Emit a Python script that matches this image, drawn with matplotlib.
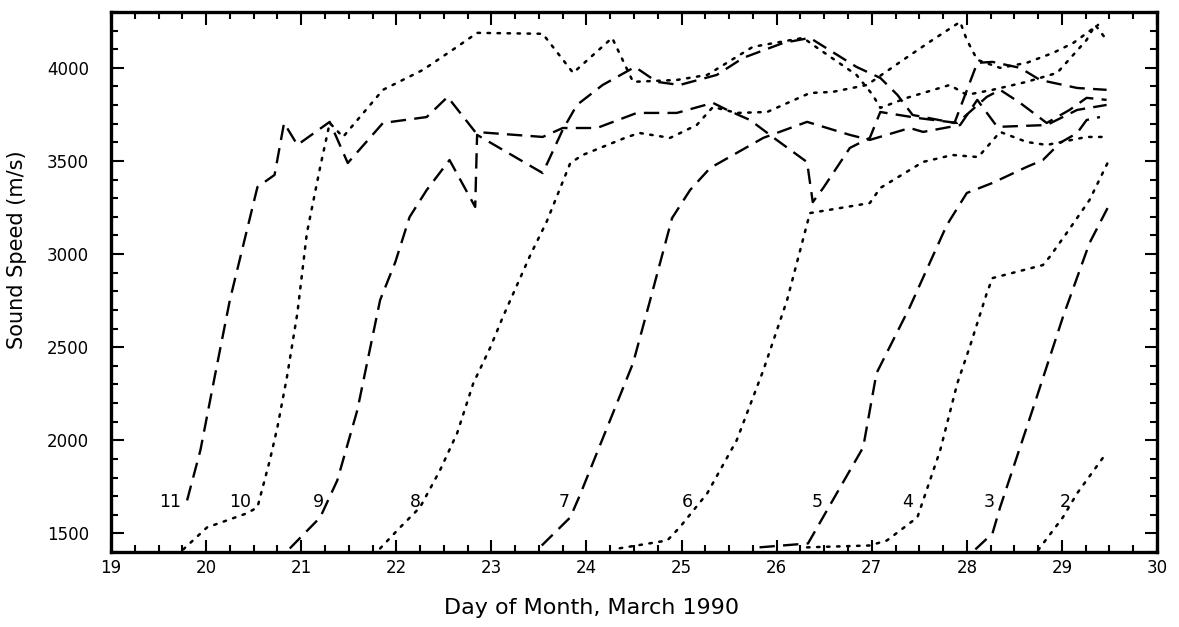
import matplotlib
matplotlib.use("Agg")
import matplotlib.pyplot as plt
from matplotlib.ticker import MultipleLocator

# ---- data (day of month, sound speed m/s) ----
c11_x = [19.80, 19.94, 20.11, 20.25, 20.54, 20.72, 20.82, 20.96, 21.30, 21.49, 21.86, 22.32, 22.54, 22.83,
         23.54, 23.75, 24.11, 24.53, 24.95, 25.33, 25.48, 25.72, 26.00, 26.32, 26.38, 26.49, 26.77, 26.98,
         27.09, 27.48, 27.90, 28.21, 28.35, 28.56, 28.84, 29.08, 29.26, 29.47]
c11_y = [1677, 1946, 2392, 2753, 3360, 3425, 3704, 3586, 3710, 3489, 3704, 3736, 3844, 3656,
         3629, 3677, 3677, 3758, 3758, 3812, 3774, 3720, 3613, 3494, 3279, 3355, 3570, 3624,
         3763, 3731, 3704, 3844, 3882, 3812, 3704, 3774, 3839, 3828]

c10_x = [19.76, 20.01, 20.43, 20.54, 20.67, 20.75, 20.85, 20.96, 21.06, 21.20, 21.30, 21.44, 21.86, 22.28,
         22.64, 22.85, 23.54, 23.86, 24.27, 24.49, 24.95, 25.27, 25.75, 26.28, 26.38, 26.84, 27.01, 27.09,
         27.37, 27.82, 28.00, 28.27, 28.63, 28.95, 29.26, 29.35, 29.47]
c10_y = [1414, 1532, 1608, 1640, 1892, 2070, 2339, 2683, 3113, 3468, 3704, 3629, 3882, 3989,
         4113, 4188, 4183, 3973, 4161, 3925, 3935, 3962, 4113, 4161, 4124, 3962, 3855, 3785,
         3839, 3908, 3855, 3882, 3925, 3973, 4150, 4231, 4150]

c9_x = [20.88, 21.20, 21.38, 21.59, 21.83, 21.99, 22.14, 22.32, 22.56, 22.83, 22.85, 23.54, 23.75, 23.90,
        24.17, 24.51, 24.74, 24.98, 25.37, 25.65, 26.07, 26.35, 26.84, 27.09, 27.27, 27.43, 27.87, 28.11,
        28.27, 28.56, 28.77, 29.16, 29.47]
c9_y = [1419, 1586, 1785, 2161, 2753, 2957, 3199, 3344, 3505, 3253, 3640, 3435, 3667, 3801,
        3908, 4005, 3925, 3908, 3962, 4054, 4134, 4161, 4005, 3946, 3855, 3747, 3704, 4027,
        4032, 4000, 3935, 3892, 3882]

c8_x = [21.83, 22.04, 22.25, 22.46, 22.64, 22.81, 22.99, 23.12, 23.41, 23.58, 23.83, 23.96, 24.43, 24.56,
        24.88, 25.16, 25.33, 25.58, 25.90, 26.35, 26.59, 26.95, 27.30, 27.61, 27.93, 28.00, 28.11, 28.35,
        28.63, 28.91, 29.12, 29.38]
c8_y = [1419, 1532, 1640, 1839, 2038, 2306, 2500, 2661, 2995, 3172, 3489, 3532, 3629, 3650,
        3624, 3693, 3790, 3758, 3763, 3865, 3871, 3908, 4032, 4140, 4247, 4150, 4043, 4000,
        4027, 4081, 4134, 4231]

c7_x = [23.53, 23.83, 23.93, 24.49, 24.67, 24.90, 25.09, 25.30, 25.86, 26.32, 26.77, 26.98, 27.40, 27.54,
        27.93, 28.11, 28.32, 28.84, 29.16, 29.47]
c7_y = [1435, 1586, 1704, 2414, 2753, 3193, 3344, 3462, 3624, 3710, 3640, 3613, 3677, 3656,
        3693, 3828, 3683, 3693, 3774, 3801]

c6_x = [24.35, 24.85, 24.98, 25.27, 25.58, 25.86, 26.11, 26.35, 26.98, 27.09, 27.54, 27.85, 28.12, 28.35,
        28.63, 28.84, 29.26, 29.48]
c6_y = [1420, 1462, 1532, 1715, 2000, 2376, 2753, 3220, 3274, 3355, 3495, 3532, 3521, 3656,
        3602, 3586, 3629, 3629]

c5_x = [25.82, 26.33, 26.56, 26.91, 26.98, 27.05, 27.40, 27.79, 28.00, 28.27, 28.63, 28.80, 28.98, 29.16,
        29.26, 29.40]
c5_y = [1425, 1446, 1651, 1962, 2161, 2360, 2715, 3156, 3328, 3382, 3468, 3505, 3597, 3650,
        3720, 3736]

c4_x = [26.32, 26.98, 27.16, 27.48, 27.72, 27.90, 28.03, 28.21, 28.27, 28.80, 28.87, 29.05, 29.29, 29.48]
c4_y = [1425, 1435, 1462, 1586, 1946, 2306, 2500, 2790, 2871, 2941, 2984, 3113, 3290, 3489]

c3_x = [28.09, 28.27, 28.35, 28.70, 29.01, 29.29, 29.48]
c3_y = [1414, 1500, 1640, 2177, 2661, 3059, 3247]

c2_x = [28.75, 29.01, 29.16, 29.45]
c2_y = [1410, 1586, 1715, 1919]

labels = ["11", "10", "9", "8", "7", "6", "5", "4", "3", "2"]
series_x = [c11_x, c10_x, c9_x, c8_x, c7_x, c6_x, c5_x, c4_x, c3_x, c2_x]
series_y = [c11_y, c10_y, c9_y, c8_y, c7_y, c6_y, c5_y, c4_y, c3_y, c2_y]
label_x = [19.62, 20.36, 21.18, 22.20, 23.77, 25.06, 26.43, 27.38, 28.24, 29.03]
label_y = 1670

x_ticks = list(range(19, 31))
y_ticks = [1500, 2000, 2500, 3000, 3500, 4000]

# ---- figure ----
fig = plt.figure(figsize=(11.79, 6.27), dpi=100)
ax = fig.add_axes([111 / 1179, 1 - 552 / 627, (1157 - 111) / 1179, (552 - 12) / 627])

dash_style = (0, (6.5, 3.5))
dot_style = (0, (1, 3))
for i, (lab, xs, ys) in enumerate(zip(labels, series_x, series_y)):
    dashed = int(lab) % 2 == 1
    ax.plot(xs, ys, color="black",
            linestyle=dash_style if dashed else dot_style,
            linewidth=1.7 if dashed else 1.8,
            dash_capstyle="butt" if dashed else "round")
    ax.text(label_x[i], label_y, lab, fontsize=12.5, ha="center", va="center",
            family="DejaVu Sans")

ax.set_xlim(19, 30)
ax.set_ylim(1400, 4300)
ax.set_xticks(x_ticks)
ax.set_yticks(y_ticks)
ax.xaxis.set_minor_locator(MultipleLocator(0.25))
ax.yaxis.set_minor_locator(MultipleLocator(100))
ax.tick_params(which="both", direction="in", top=True, right=True, width=1.5, colors="black")
ax.tick_params(which="major", length=9, labelsize=12)
ax.tick_params(which="minor", length=5)
ax.tick_params(axis="x", which="major", pad=5)
ax.tick_params(axis="y", which="major", pad=16)
for sp in ax.spines.values():
    sp.set_linewidth(2.4)

ax.set_xlabel("Day of Month, March 1990", fontsize=16)
ax.set_ylabel("Sound Speed (m/s)", fontsize=15)
ax.xaxis.set_label_coords(0.459, -0.085)
ax.yaxis.set_label_coords(-0.080, 0.56)

fig.savefig("out.png", dpi=100)
